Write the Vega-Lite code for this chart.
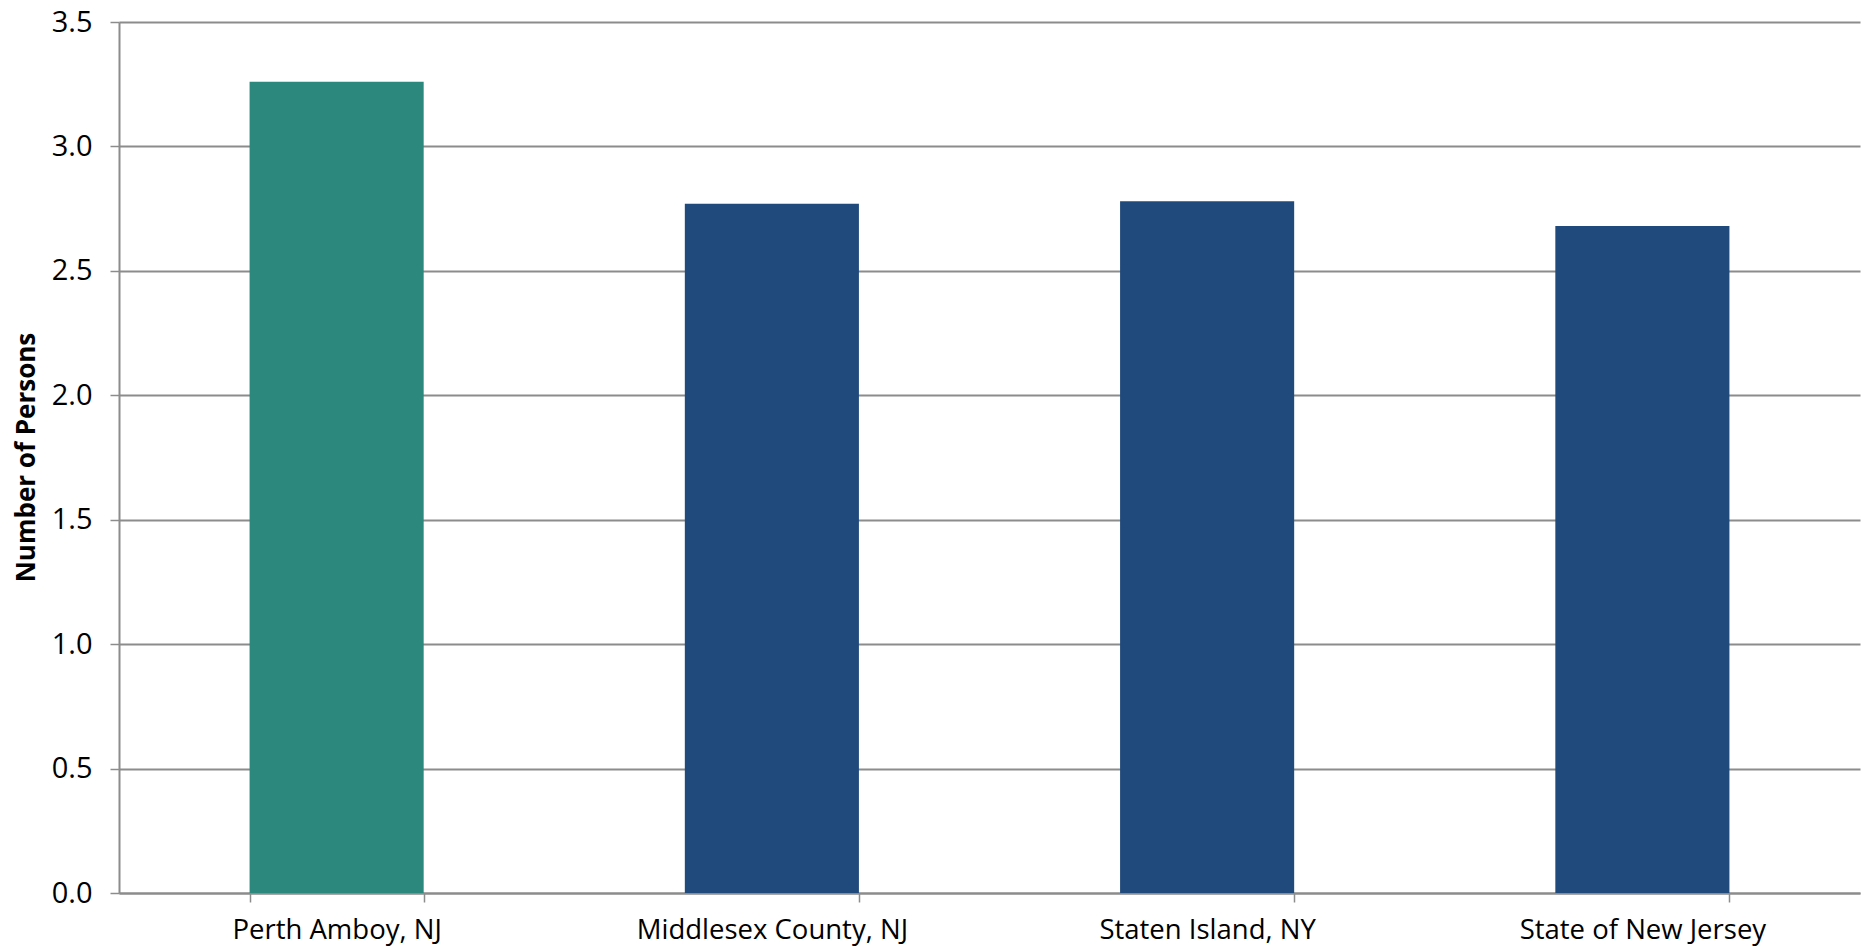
{
  "$schema": "https://vega.github.io/schema/vega-lite/v6.json",
  "autosize": {"type": "none"},
  "padding": {"left": 119, "top": 22, "right": 6, "bottom": 54},
  "width": 1741,
  "height": 871,
  "background": "white",
  "data": {
    "values": [
      {"place": "Perth Amboy, NJ", "persons": 3.26, "group": "city"},
      {"place": "Middlesex County, NJ", "persons": 2.77, "group": "other"},
      {"place": "Staten Island, NY", "persons": 2.78, "group": "other"},
      {"place": "State of New Jersey", "persons": 2.68, "group": "other"}
    ]
  },
  "mark": {"type": "bar"},
  "encoding": {
    "x": {
      "field": "place",
      "type": "nominal",
      "sort": null,
      "scale": {"paddingInner": 0.6, "paddingOuter": 0.3},
      "axis": {
        "title": null,
        "labelAngle": 0,
        "labelFont": "Open Sans",
        "labelFontSize": 27.5,
        "labelLimit": 0,
        "labelColor": "#000000",
        "labelPadding": 14,
        "domainColor": "#8c8c8c",
        "domainWidth": 2,
        "tickColor": "#8c8c8c",
        "tickWidth": 1.5,
        "tickSize": 9,
        "tickBand": "extent",
        "grid": false
      }
    },
    "y": {
      "field": "persons",
      "type": "quantitative",
      "scale": {"domain": [0, 3.5], "nice": false},
      "axis": {
        "title": "Number of Persons",
        "titleFont": "Open Sans",
        "titleFontSize": 26,
        "titleFontWeight": "bold",
        "titleColor": "#000000",
        "titleAngle": 270,
        "titleX": -93,
        "titleY": 435,
        "titleAlign": "center",
        "titleBaseline": "middle",
        "values": [0, 0.5, 1, 1.5, 2, 2.5, 3, 3.5],
        "format": ".1f",
        "labelFont": "Open Sans",
        "labelFontSize": 29,
        "labelColor": "#000000",
        "labelPadding": 18,
        "domainColor": "#8c8c8c",
        "domainWidth": 2,
        "tickColor": "#8c8c8c",
        "tickWidth": 1.5,
        "tickSize": 9,
        "grid": true,
        "gridColor": "#8c8c8c",
        "gridWidth": 2
      }
    },
    "color": {
      "field": "group",
      "type": "nominal",
      "scale": {"domain": ["city", "other"], "range": ["#2C877C", "#214A7C"]},
      "legend": null
    }
  },
  "config": {"view": {"stroke": null}}
}
